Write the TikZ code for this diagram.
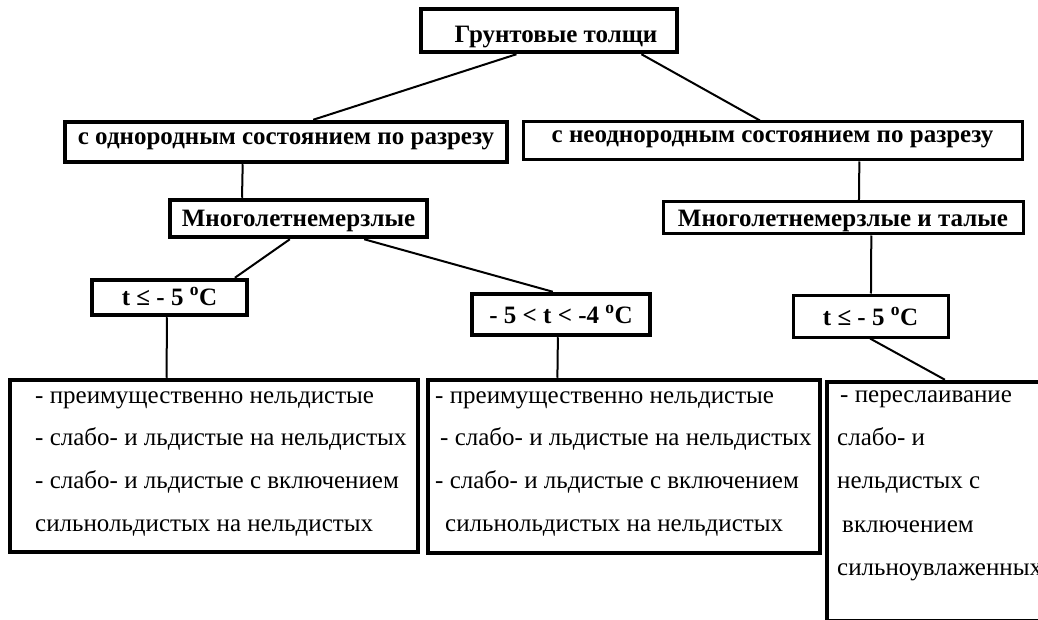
\documentclass[tikz,border=0pt]{standalone}
\usepackage{fontspec}
\setmainfont{Liberation Serif}
\usetikzlibrary{calc}
\tikzset{
  boxthick/.style={draw=black, line width=4.5pt, rectangle, inner sep=0pt, fill=white},
  boxthin/.style={draw=black, line width=3pt, rectangle, inner sep=0pt, fill=white},
  head/.style={font=\fontsize{25}{25}\selectfont\bfseries},
  bl/.style={text depth=0pt, text height=#1},
  body/.style={font=\fontsize{25}{25}\selectfont, anchor=base west, inner sep=0pt},
  link/.style={draw=black, line width=2pt},
}
\begin{document}
\begin{tikzpicture}[x=1pt, y=-1pt]
\useasboundingbox (0,0) rectangle (1038,620);
\fill[white] (0,0) rectangle (1038,620);

% boxes
\node[boxthick, head, bl=25pt, minimum width=256, minimum height=43] (top) at (549,30.5) {\hspace*{14pt}Грунтовые толщи};
\node[boxthick, head, bl=6pt, minimum width=442, minimum height=40] (L2a) at (286,142) {с однородным состоянием по разрезу};
\node[boxthin, head, bl=4pt, minimum width=499, minimum height=38] (L2b) at (772.5,141) {с неоднородным состоянием по разрезу};
\node[boxthick, head, bl=17pt, minimum width=257, minimum height=37] (M1) at (298.5,218.5) {Многолетнемерзлые};
\node[boxthin, head, bl=18pt, minimum width=360, minimum height=32] (M2) at (843,218) {Многолетнемерзлые и талые};
\node[boxthick, head, bl=15pt, minimum width=155, minimum height=35] (T1) at (169.5,297.5) {t ≤ - 5 \textsuperscript{o}C};
\node[boxthick, head, bl=17pt, minimum width=178, minimum height=41] (T2) at (561,314.5) {- 5 < t < -4 \textsuperscript{o}C};
\node[boxthin, head, bl=18pt, minimum width=155, minimum height=42] (T3) at (870.5,316) {t ≤ - 5 \textsuperscript{o}C};
\node[boxthick, minimum width=408, minimum height=172] (B1) at (214,466) {};
\node[boxthick, minimum width=392, minimum height=173] (B2) at (624,466.5) {};
\begin{scope}
\clip (0,0) rectangle (1038,620);
\node[boxthick, minimum width=233, minimum height=239.5] (B3) at (943.5,501.75) {};
\node[body] (b3l1) at (840,402) {- переслаивание};
\node[body] (b3l2) at (837,445) {слабо- и};
\node[body] (b3l3) at (837,488) {нельдистых с};
\node[body] (b3l4) at (842,532) {включением};
\node[body] (b3l5) at (837,575) {сильноувлаженных};
\end{scope}

% text of bottom boxes
\node[body] (b1l1) at (35,403) {- преимущественно нельдистые};
\node[body] (b1l2) at (35,445) {- слабо- и льдистые на нельдистых};
\node[body] (b1l3) at (35,488) {- слабо- и льдистые с включением};
\node[body] (b1l4) at (35,531) {сильнольдистых на нельдистых};
\node[body] (b2l1) at (435,403) {- преимущественно нельдистые};
\node[body] (b2l2) at (440,445) {- слабо- и льдистые на нельдистых};
\node[body] (b2l3) at (435,488) {- слабо- и льдистые с включением};
\node[body] (b2l4) at (445,531) {сильнольдистых на нельдистых};

% connector ends
\coordinate (c1a) at ($(top.south west)!0.375!(top.south east)$);
\coordinate (c1b) at ($(L2a.north west)!0.561!(L2a.north east)$);
\coordinate (c2a) at ($(top.south west)!0.855!(top.south east)$);
\coordinate (c2b) at ($(L2b.north west)!0.475!(L2b.north east)$);
\coordinate (c3a) at ($(L2a.south west)!0.403!(L2a.south east)$);
\coordinate (c3b) at ($(M1.north west)!0.284!(M1.north east)$);
\coordinate (c4a) at ($(L2b.south west)!0.673!(L2b.south east)$);
\coordinate (c4b) at ($(M2.north west)!0.544!(M2.north east)$);
\coordinate (c5a) at ($(M1.south west)!0.467!(M1.south east)$);
\coordinate (c5b) at ($(T1.north west)!0.91!(T1.north east)$);
\coordinate (c6a) at ($(M1.south west)!0.751!(M1.south east)$);
\coordinate (c6b) at ($(T2.north west)!0.455!(T2.north east)$);
\coordinate (c7a) at ($(M2.south west)!0.578!(M2.south east)$);
\coordinate (c7b) at ($(T3.north west)!0.503!(T3.north east)$);
\coordinate (c8a) at ($(T1.south west)!0.484!(T1.south east)$);
\coordinate (c8b) at ($(B1.north west)!0.385!(B1.north east)$);
\coordinate (c9a) at ($(T2.south west)!0.483!(T2.south east)$);
\coordinate (c9b) at ($(B2.north west)!0.332!(B2.north east)$);
\coordinate (c10a) at ($(T3.south west)!0.497!(T3.south east)$);
\coordinate (c10b) at ($(B3.north west)!0.506!(B3.north east)$);

\draw[link] (c1a) -- (c1b);
\draw[link] (c2a) -- (c2b);
\draw[link] (c3a) -- (c3b);
\draw[link] (c4a) -- (c4b);
\draw[link] (c5a) -- (c5b);
\draw[link] (c6a) -- (c6b);
\draw[link] (c7a) -- (c7b);
\draw[link] (c8a) -- (c8b);
\draw[link] (c9a) -- (c9b);
\draw[link] (c10a) -- (c10b);
\end{tikzpicture}
\end{document}
